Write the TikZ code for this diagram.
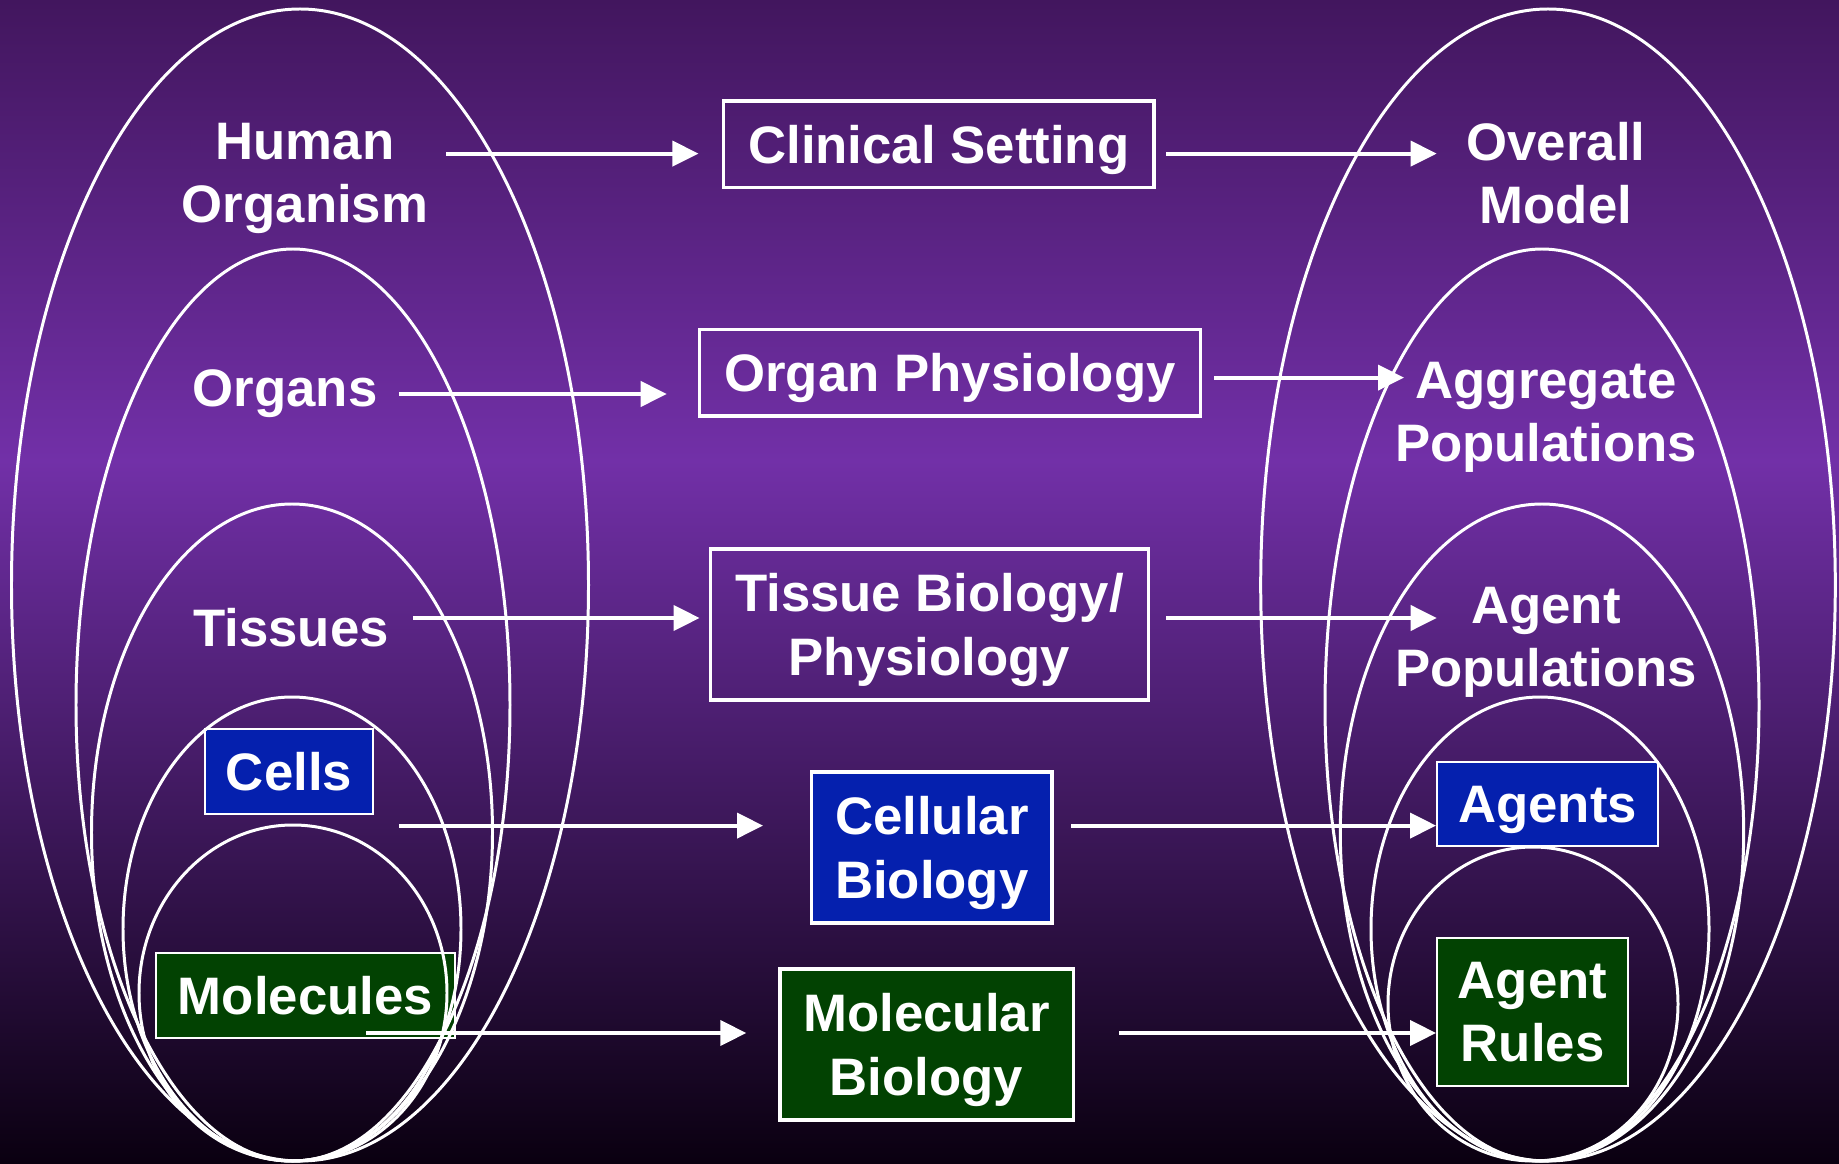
\documentclass[tikz,border=0pt]{standalone}
\usepackage{fontspec}
\setmainfont{Liberation Sans}
\usetikzlibrary{arrows.meta}
\definecolor{bgtop}{HTML}{42165E}
\definecolor{bgmid}{HTML}{7230A8}
\definecolor{bgbot}{HTML}{0A0010}
\definecolor{boxblue}{HTML}{0520AE}
\definecolor{boxgreen}{HTML}{024202}
\begin{document}
\begin{tikzpicture}[x=0.01cm,y=-0.01cm,
  txt/.style={text=white, font=\fontsize{15}{18}\selectfont\bfseries, align=center, inner sep=0pt, text depth=0pt},
  lbl/.style={txt},
  outbox/.style={txt, draw=white, line width=0.9pt},
  midblue/.style={outbox, fill=boxblue},
  midgreen/.style={outbox, fill=boxgreen},
  smallblue/.style={txt, draw=white, line width=0.5pt, fill=boxblue},
  smallgreen/.style={txt, draw=white, line width=0.5pt, fill=boxgreen},
  ell/.style={draw=white, line width=0.85pt},
  arr/.style={draw=white, line width=1.1pt, -{Triangle[length=0.26cm, width=0.25cm]}}
]
\useasboundingbox (0,0) rectangle (1839,1164);
% background
\shade[top color=bgtop, bottom color=bgmid] (0,0) rectangle (1839,462);
\shade[top color=bgmid, bottom color=bgbot] (0,460) rectangle (1839,1164);

% plain labels
\node[lbl] (human) at (305,173) {Human\\Organism};
\node[lbl] (organs) at (285,388) {Organs};
\node[lbl] (tissues) at (291,627) {Tissues};
\node[lbl] (overall) at (1556,173) {Overall\\Model};
\node[lbl] (aggregate) at (1546,412) {Aggregate\\Populations};
\node[lbl] (agentpop) at (1546,637) {Agent\\Populations};

% left / right coloured boxes
\node[smallblue, minimum width=1.68cm, minimum height=0.85cm] (cells) at (289,771.5) {Cells};
\node[smallgreen, minimum width=2.99cm, minimum height=0.85cm] (molecules) at (305.5,995.5) {Molecules};
\node[smallblue, minimum width=2.21cm, minimum height=0.84cm] (agents) at (1547.5,804) {Agents};
\node[smallgreen, minimum width=1.91cm, minimum height=1.48cm] (agentrules) at (1532.5,1012) {Agent\\Rules};

% ellipses, left
\draw[ell] (300,585) ellipse [x radius=288.5, y radius=576];
\draw[ell] (293,705) ellipse [x radius=217, y radius=456];
\draw[ell] (292,832.5) ellipse [x radius=200.5, y radius=328.5];
\draw[ell] (292,929) ellipse [x radius=169, y radius=232];
\draw[ell] (293,993) ellipse [x radius=154, y radius=168];
% ellipses, right
\draw[ell] (1548,585) ellipse [x radius=287.3, y radius=576];
\draw[ell] (1542,705) ellipse [x radius=217, y radius=456];
\draw[ell] (1542,832.5) ellipse [x radius=201.7, y radius=328.5];
\draw[ell] (1540,929) ellipse [x radius=169, y radius=232];
\draw[ell] (1533,1004) ellipse [x radius=145, y radius=157];

% middle boxes
\node[outbox, minimum width=4.30cm, minimum height=0.866cm] (clinical) at (938.8,144.3) {Clinical Setting};
\node[outbox, minimum width=5.00cm, minimum height=0.865cm] (organphys) at (950,372.8) {Organ Physiology};
\node[outbox, minimum width=4.37cm, minimum height=1.51cm] (tissue) at (929.5,624.5) {Tissue Biology/\\Physiology};
\node[midblue, minimum width=2.404cm, minimum height=1.51cm] (cellular) at (931.8,847.5) {Cellular\\Biology};
\node[midgreen, minimum width=2.93cm, minimum height=1.51cm] (molecular) at (926.5,1044.5) {Molecular\\Biology};

% arrow anchor coordinates
\coordinate (s1) at (446,153.6);
\coordinate (e2) at (1436.7,153.6);
\coordinate (s3) at (398.8,394);
\coordinate (e4) at (1404,377.6);
\coordinate (s5) at (412.8,618);
\coordinate (e6) at (1436.7,618);
\coordinate (s7) at (398.8,825.6);
\coordinate (s9) at (366,1033);

% arrows
\draw[arr, shorten >=0.236cm] (s1) -- (s1 -| clinical.west);
\draw[arr, shorten <=0.106cm] (clinical.east |- e2) -- (e2);
\draw[arr, shorten >=0.315cm] (s3) -- (s3 -| organphys.west);
\draw[arr, shorten <=0.127cm] (organphys.east |- e4) -- (e4);
\draw[arr, shorten >=0.097cm] (s5) -- (s5 -| tissue.west);
\draw[arr, shorten <=0.166cm] (tissue.east |- e6) -- (e6);
\draw[arr, shorten >=0.469cm] (s7) -- (s7 -| cellular.west);
\draw[arr, shorten <=0.176cm] (cellular.east |- s7) -- (agents.west |- s7);
\draw[arr, shorten >=0.32cm] (s9) -- (s9 -| molecular.west);
\draw[arr, shorten <=0.446cm] (molecular.east |- s9) -- (agentrules.west |- s9);
\end{tikzpicture}
\end{document}
